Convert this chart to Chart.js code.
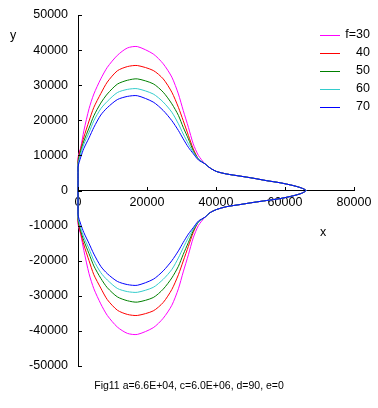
<!DOCTYPE html>
<html>
<head>
<meta charset="utf-8">
<script src="https://cdn.jsdelivr.net/npm/chart.js@4/dist/chart.umd.min.js"></script>
<style>
  body { margin: 0; background: #fff; }
  canvas { display: block; }
</style>
</head>
<body>
<canvas id="myChart" width="378" height="408"></canvas>
<script>
// series names and colours
const fLabels = ['f=30', '40', '50', '60', '70']
const colors = ['#FF00FF', '#FF0000', '#008000', '#33CCCC', '#0000FF']

// upper half, x going right (first point is the origin)
const xUp = [0, 0, 800, 1700, 3200, 4600, 6600, 8500, 11400, 14300, 17200, 21800, 24700, 27200, 29100, 30500, 32000, 33400, 34900]
const f30Up = [0, 9300, 12300, 17000, 23300, 27500, 31800, 35100, 38500, 40600, 41000, 38900, 36100, 32300, 27500, 22800, 18000, 13300, 10000]
const f40Up = [0, 8600, 12000, 15200, 19800, 23700, 27600, 30900, 34100, 35300, 35600, 34200, 31800, 28000, 23700, 19900, 15700, 11900, 9000]
const f50Up = [0, 8000, 11300, 14100, 17800, 21300, 24900, 27500, 30300, 31400, 31800, 30400, 28000, 24700, 21400, 18000, 14700, 11400, 9000]
const f60Up = [0, 7300, 10500, 13200, 16500, 19900, 23300, 25400, 27900, 28800, 29000, 27500, 25200, 22300, 19000, 16100, 13300, 10900, 9000]
const f70Up = [0, 6600, 9500, 12000, 15000, 18000, 21500, 23600, 25900, 26800, 27000, 25200, 22800, 19900, 17100, 14700, 12300, 10500, 8700]

// the tail where all curves meet (out to x=66000 and back)
const xTail = [36800, 38300, 40200, 43100, 47000, 50800, 54700, 58600, 62400, 64800, 66100, 64800, 62400, 58600, 54700, 50800, 47000, 43100, 40200, 38300, 36800]
const yTail = [7600, 6400, 5400, 4700, 4100, 3500, 2800, 2200, 1400, 700, 0, -800, -1500, -2300, -2850, -3400, -4000, -4600, -5400, -6300, -7600]

// lower half, x going back left to the origin
const xDown = [34900, 33400, 32000, 30500, 29100, 27200, 24700, 21800, 17200, 14300, 11400, 8500, 6600, 4600, 3200, 1700, 800, 0, 0]
const f30Down = [-10000, -13500, -18300, -23200, -28000, -32700, -36400, -39100, -41000, -40700, -38900, -35600, -32300, -28000, -23700, -17100, -12600, -9500, 0]
const f40Down = [-9000, -12000, -15900, -20100, -24000, -28200, -31900, -34300, -35600, -35300, -34100, -31100, -27800, -24000, -20000, -15500, -12200, -8800, 0]
const f50Down = [-9000, -11500, -14800, -18200, -21600, -24900, -28100, -30500, -31800, -31400, -30300, -27700, -25000, -21500, -18000, -14300, -11500, -8200, 0]
const f60Down = [-9000, -11000, -13400, -16300, -19200, -22500, -25300, -27600, -29000, -28800, -27900, -25500, -23400, -20000, -16600, -13300, -10700, -7500, 0]
const f70Down = [-8700, -10600, -12400, -14800, -17200, -20000, -22900, -25300, -27000, -26800, -25900, -23700, -21600, -18100, -15100, -12000, -9600, -6800, 0]

const ups = [f30Up, f40Up, f50Up, f60Up, f70Up]
const downs = [f30Down, f40Down, f50Down, f60Down, f70Down]

const titleText = 'Fig11 a=6.6E+04, c=6.0E+06, d=90, e=0'
const font = '"Liberation Sans", Arial, sans-serif'

function loop(up, down) {
  let pts = []
  for (let i = 0; i < xUp.length; i++) pts.push({x: xUp[i], y: up[i]})
  for (let i = 0; i < xTail.length; i++) pts.push({x: xTail[i], y: yTail[i]})
  for (let i = 0; i < xDown.length; i++) pts.push({x: xDown[i], y: down[i]})
  return pts
}

let datasets = []
for (let i = 0; i < fLabels.length; i++) {
  datasets.push({
    label: fLabels[i],
    data: loop(ups[i], downs[i]),
    borderColor: colors[i],
    backgroundColor: colors[i],
    borderWidth: 1,
    showLine: true,
    pointRadius: 0,
    tension: 0.25,
    fill: false,
    clip: false,
    order: fLabels.length - 1 - i // f=70 drawn on top
  })
}

// inner tick marks, axis titles, legend and caption, Excel style
const extras = {
  id: 'extras',
  afterDraw(chart) {
    const c = chart.ctx
    const xs = chart.scales.x
    const ys = chart.scales.y
    const x0 = Math.round(xs.getPixelForValue(0))
    const y0 = Math.round(ys.getPixelForValue(0))
    c.save()
    c.fillStyle = '#000'
    ys.ticks.forEach(t => {
      const py = Math.round(ys.getPixelForValue(t.value))
      c.fillRect(x0, py, 4, 1)
    })
    xs.ticks.forEach(t => {
      const px = Math.round(xs.getPixelForValue(t.value))
      c.fillRect(px, y0 - 4, 1, 4)
    })

    c.font = '12.5px ' + font
    c.textAlign = 'center'
    c.textBaseline = 'middle'
    c.fillText('y', 13, 36)
    c.fillText('x', 323, 233)

    // caption under the chart
    c.font = '10.5px ' + font
    c.fillText(titleText, 189, 386)

    // legend
    c.font = '12.5px ' + font
    c.textAlign = 'right'
    for (let i = 0; i < fLabels.length; i++) {
      const ly = 35 + i * 17.9
      c.fillStyle = colors[i]
      c.fillRect(320, Math.round(ly), 20, 1)
      c.fillStyle = '#000'
      c.fillText(fLabels[i], 370, ly)
    }
    c.restore()
  }
}

const ctx = document.getElementById('myChart').getContext('2d')
const chart = new Chart(ctx, {
  type: 'scatter',
  data: { datasets },
  plugins: [extras],
  options: {
    responsive: false,
    animation: false,
    layout: { padding: { top: 15, right: 24, bottom: 42, left: 0 } },
    plugins: {
      legend: { display: false },
      tooltip: { enabled: false }
    },
    scales: {
      x: {
        type: 'linear',
        position: { y: 0 },
        min: 0,
        max: 80000,
        grid: { display: false, drawTicks: false },
        border: { display: true, color: '#000', width: 1 },
        ticks: {
          stepSize: 20000,
          padding: 5,
          color: '#000',
          font: { family: font, size: 12.5 },
          maxRotation: 0,
          callback: v => String(v)
        },
        afterFit(scale) {
          scale.paddingLeft = 0
          scale.paddingRight = 0
        }
      },
      y: {
        type: 'linear',
        min: -50000,
        max: 50000,
        grid: { display: false, drawTicks: false },
        border: { display: true, color: '#000', width: 1 },
        ticks: {
          stepSize: 10000,
          padding: 10,
          color: '#000',
          font: { family: font, size: 12.5 },
          callback: v => String(v)
        },
        afterFit(scale) {
          scale.width = 78
          scale.paddingTop = 0
          scale.paddingBottom = 0
        }
      }
    }
  }
})
</script>
</body>
</html>
